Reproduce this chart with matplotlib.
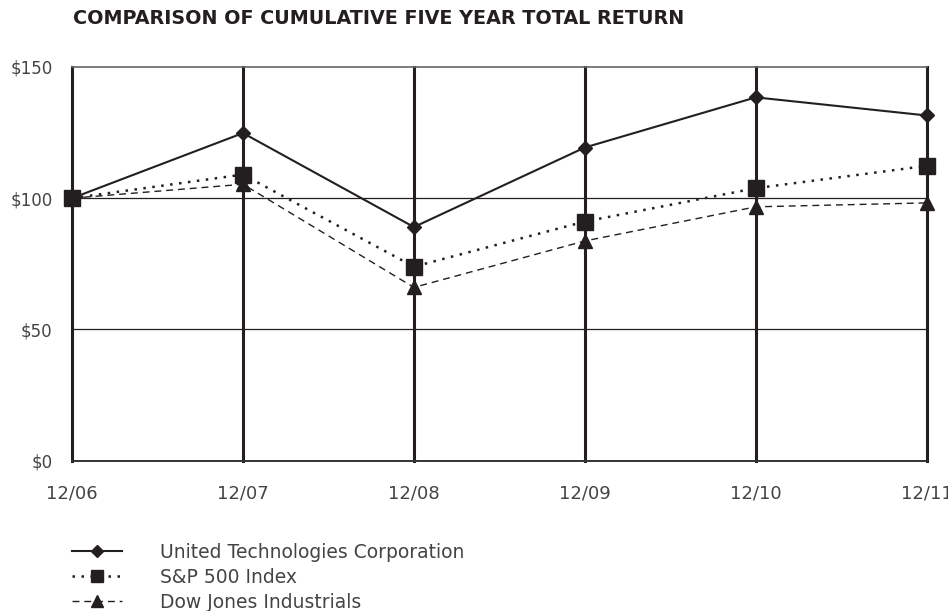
import matplotlib.pyplot as plt

plt.rcParams['font.family'] = 'DejaVu Sans'

years = ['12/06', '12/07', '12/08', '12/09', '12/10', '12/11']
utc = [100, 124.8, 89.0, 119.3, 138.4, 131.5]
sp500 = [100, 109.0, 73.9, 91.1, 103.8, 112.3]
dow = [100, 105.3, 66.0, 83.7, 96.7, 98.2]

ink = '#231f20'
grey = '#444444'

fig = plt.figure(figsize=(9.48, 6.11), dpi=100)
ax = fig.add_axes([0.076, 0.246, 0.9015, 0.6445])

x = list(range(len(years)))

# vertical grid lines, heavy
for xi in x:
    ax.axvline(xi, color=ink, lw=2.2, zorder=1, clip_on=False)
# horizontal lines
for yv in [50, 100]:
    ax.axhline(yv, color=ink, lw=0.9, zorder=1)
ax.axhline(150, color='#666666', lw=1.2, zorder=1, clip_on=False)
ax.axhline(0, color='#333333', lw=1.4, zorder=1, clip_on=False)

l1, = ax.plot(x, utc, color=ink, lw=1.5, marker='D', ms=7, zorder=5,
              clip_on=False, label='United Technologies Corporation')
l2, = ax.plot(x, sp500, color=ink, lw=1.8, ls=(0, (1, 2.6)), marker='s', ms=11,
              zorder=4, clip_on=False, label='S&P 500 Index')
l3, = ax.plot(x, dow, color=ink, lw=1.0, ls=(0, (5, 3.5)), marker='^', ms=10,
              zorder=3, clip_on=False, label='Dow Jones Industrials')

ax.set_xlim(0, 5)
ax.set_ylim(0, 150)
ax.set_xticks(x)
ax.set_xticklabels(years)
ax.set_yticks([0, 50, 100, 150])
ax.set_yticklabels(['$0', '$50', '$100', '$150'])
ax.tick_params(length=0, labelsize=12, colors=grey, pad=14)
ax.tick_params(axis='x', pad=17, labelsize=13)
for s in ax.spines.values():
    s.set_visible(False)

fig.text(0.077, 0.97, 'COMPARISON OF CUMULATIVE FIVE YEAR TOTAL RETURN',
         fontsize=13.8, fontweight='bold', color=ink, va='center')

leg = fig.legend(handles=[l1, l2, l3], loc='upper left',
                 bbox_to_anchor=(0.076, 0.112), frameon=False, fontsize=13.5,
                 handlelength=2.65, handletextpad=2.05, labelspacing=0.33,
                 borderaxespad=0, borderpad=0)
for t in leg.get_texts():
    t.set_color(grey)
for h in leg.legend_handles:
    h.set_markersize(h.get_markersize() * 0.85)

fig.savefig('out.png', dpi=100)
